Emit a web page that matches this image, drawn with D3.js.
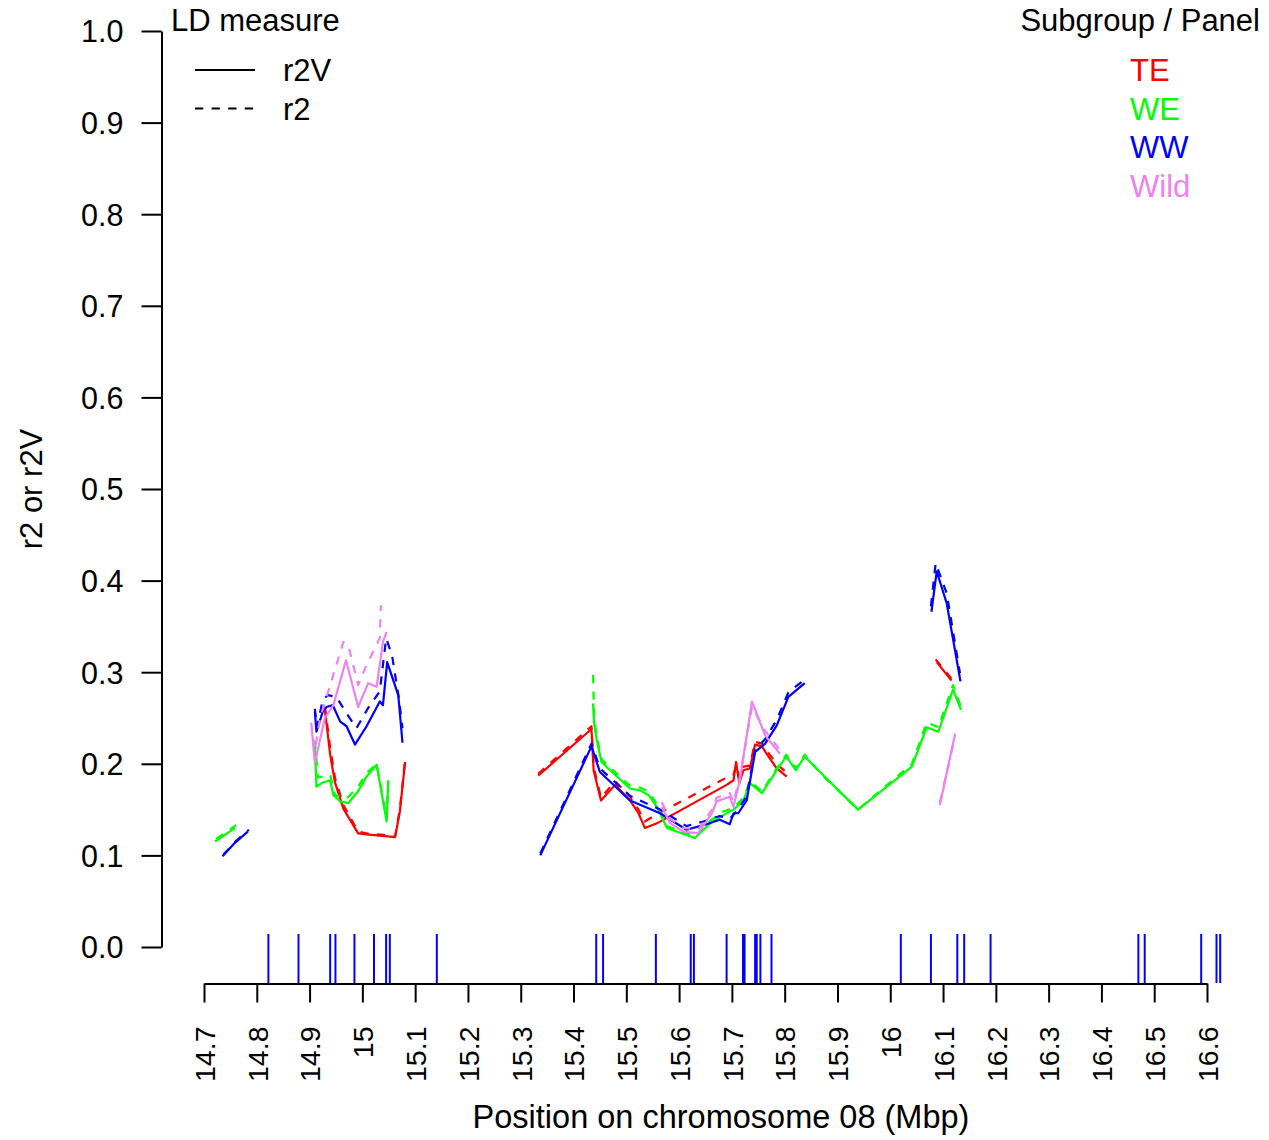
<!DOCTYPE html>
<html>
<head>
<meta charset="utf-8">
<script src="https://cdn.jsdelivr.net/npm/d3@7/dist/d3.min.js"></script>
<style>
  html, body { margin: 0; padding: 0; background: #fff; }
  svg { display: block; font-family: "Liberation Sans", Arial, sans-serif; }
</style>
</head>
<body>
<svg id="chart" width="1269" height="1140"></svg>
<script>
// ---------------- DATA ----------------
const subgroups = ["TE", "WE", "WW", "Wild"];
const measures = ["r2V", "r2"];

const xTicks = [14.7,14.8,14.9,15.0,15.1,15.2,15.3,15.4,15.5,15.6,15.7,15.8,15.9,16.0,16.1,16.2,16.3,16.4,16.5,16.6];
const xTickLabels = ["14.7","14.8","14.9","15","15.1","15.2","15.3","15.4","15.5","15.6","15.7","15.8","15.9","16","16.1","16.2","16.3","16.4","16.5","16.6"];
const yTicks = [0,0.1,0.2,0.3,0.4,0.5,0.6,0.7,0.8,0.9,1.0];
const yTickLabels = ["0.0","0.1","0.2","0.3","0.4","0.5","0.6","0.7","0.8","0.9","1.0"];

// SNP positions (rug), Mbp
const snpPositions = [14.822,14.879,14.939,14.949,14.985,15.022,15.045,15.052,15.141,
  15.443,15.456,15.556,15.622,15.628,15.690,15.721,15.724,15.744,15.747,15.754,15.775,
  16.020,16.077,16.127,16.140,16.190,16.470,16.482,16.589,16.618,16.625];

// [position Mbp, LD value]; null = gap
const TE_r2V = [
  [14.929,0.259],[14.939,0.210],[14.948,0.180],[14.964,0.151],[14.992,0.124],[15.008,0.123],[15.062,0.120],[15.071,0.148],[15.081,0.202], null,
  [15.333,0.187],[15.434,0.238],[15.438,0.193],[15.452,0.160],[15.479,0.177],[15.507,0.160],[15.523,0.146],[15.535,0.130],[15.558,0.135],
  [15.690,0.177],[15.703,0.182],[15.708,0.202],[15.714,0.179],[15.722,0.193],[15.734,0.195],[15.744,0.221],[15.757,0.219],[15.769,0.208],[15.785,0.195],[15.804,0.186], null,
  [16.088,0.311],[16.116,0.291]
];
const TE_r2 = [
  [14.929,0.262],[14.939,0.218],[14.948,0.185],[14.964,0.155],[14.992,0.126],[15.008,0.124],[15.062,0.121],[15.071,0.150],[15.081,0.205], null,
  [15.333,0.189],[15.434,0.241],[15.438,0.197],[15.452,0.163],[15.479,0.181],[15.507,0.164],[15.523,0.150],[15.535,0.137],[15.558,0.145],
  [15.690,0.185],[15.703,0.188],[15.708,0.198],[15.714,0.185],[15.722,0.197],[15.734,0.198],[15.744,0.224],[15.757,0.222],[15.769,0.212],[15.785,0.200],[15.804,0.190], null,
  [16.086,0.314],[16.116,0.293]
];

const WE_r2V = [
  [14.721,0.115],[14.759,0.130], null,
  [14.910,0.219],[14.913,0.175],[14.923,0.179],[14.939,0.182],[14.945,0.166],[14.958,0.159],[14.973,0.157],[14.992,0.170],[15.008,0.186],[15.027,0.199],[15.046,0.137],[15.049,0.180], null,
  [15.437,0.266],[15.439,0.244],[15.444,0.226],[15.453,0.202],[15.475,0.190],[15.507,0.173],[15.526,0.171],[15.542,0.166],[15.558,0.153],[15.577,0.130],
  [15.630,0.119],[15.659,0.135],[15.684,0.144],[15.703,0.150],[15.722,0.160],[15.734,0.179],[15.757,0.168],[15.785,0.193],[15.803,0.208],[15.821,0.193],
  [15.838,0.208],[15.867,0.191],[15.939,0.150],[16.041,0.197],[16.069,0.240],[16.091,0.235],[16.119,0.281],[16.134,0.259]
];
const WE_r2 = [
  [14.723,0.118],[14.761,0.133], null,
  [14.910,0.225],[14.916,0.185],[14.939,0.188],[14.948,0.166],[14.970,0.162],[14.992,0.175],[15.008,0.190],[15.027,0.200],[15.046,0.140],[15.049,0.182], null,
  [15.437,0.297],[15.439,0.250],[15.444,0.230],[15.453,0.205],[15.475,0.193],[15.507,0.176],[15.526,0.174],[15.542,0.170],[15.558,0.156],[15.577,0.132],
  [15.630,0.121],[15.659,0.138],[15.684,0.148],[15.703,0.152],[15.722,0.163],[15.734,0.181],[15.757,0.170],[15.785,0.195],[15.803,0.210],[15.821,0.195],
  [15.838,0.210],[15.867,0.190],[15.939,0.150],[16.041,0.200],[16.069,0.245],[16.091,0.240],[16.119,0.286],[16.134,0.262]
];

const WW_r2V = [
  [14.735,0.099],[14.759,0.114],[14.783,0.126], null,
  [14.910,0.257],[14.913,0.235],[14.925,0.257],[14.932,0.262],[14.944,0.264],[14.958,0.246],[14.970,0.241],[14.986,0.221],[15.008,0.241],[15.033,0.268],[15.039,0.264],[15.047,0.311],[15.068,0.275],[15.076,0.223], null,
  [15.337,0.100],[15.434,0.219],[15.450,0.191],[15.507,0.160],[15.564,0.146],[15.614,0.128],[15.646,0.133],[15.677,0.139],[15.696,0.134],[15.703,0.146],[15.712,0.146],
  [15.728,0.160],[15.744,0.213],[15.763,0.222],[15.785,0.242],[15.807,0.273],[15.838,0.288], null,
  [16.078,0.366],[16.088,0.410],[16.107,0.375],[16.133,0.290]
];
const WW_r2 = [
  [14.737,0.101],[14.761,0.116],[14.785,0.128], null,
  [14.910,0.260],[14.914,0.240],[14.925,0.270],[14.935,0.275],[14.951,0.273],[14.970,0.255],[14.989,0.239],[15.011,0.261],[15.033,0.279],[15.045,0.337],[15.056,0.319],[15.069,0.272],[15.076,0.239], null,
  [15.337,0.102],[15.434,0.222],[15.450,0.195],[15.507,0.165],[15.564,0.150],[15.614,0.132],[15.646,0.137],[15.677,0.143],[15.696,0.140],[15.712,0.150],
  [15.728,0.165],[15.744,0.215],[15.763,0.227],[15.785,0.248],[15.807,0.278],[15.838,0.292], null,
  [16.077,0.372],[16.086,0.419],[16.107,0.386],[16.132,0.299]
];

const Wild_r2V = [
  [14.904,0.239],[14.910,0.201],[14.929,0.250],[14.945,0.264],[14.969,0.313],[14.992,0.262],[15.011,0.288],[15.027,0.284],[15.033,0.308],[15.039,0.333],[15.046,0.344], null,
  [15.567,0.153],[15.583,0.135],[15.608,0.126],[15.636,0.124],[15.662,0.146],[15.671,0.159],[15.696,0.164],[15.703,0.153],[15.715,0.182],[15.738,0.268],[15.763,0.231],[15.791,0.211], null,
  [16.094,0.155],[16.123,0.233]
];
const Wild_r2 = [
  [14.903,0.245],[14.910,0.215],[14.920,0.250],[14.964,0.333],[14.973,0.330],[14.992,0.286],[15.008,0.308],[15.033,0.337],[15.035,0.373], null,
  [15.567,0.158],[15.583,0.140],[15.608,0.130],[15.636,0.128],[15.662,0.150],[15.671,0.163],[15.696,0.168],[15.703,0.158],[15.715,0.185],[15.738,0.262],[15.763,0.236],[15.791,0.215], null,
  [16.094,0.158],[16.122,0.228]
];

// ---------------- STYLE ----------------
const colorMap = { TE: "#ff0000", WE: "#00ff00", WW: "#0000ff", Wild: "#ee82ee" };
const dashMap = { r2V: null, r2: "8.3,8.3" };
const seriesData = {
  TE: { r2V: TE_r2V, r2: TE_r2 },
  WE: { r2V: WE_r2V, r2: WE_r2 },
  WW: { r2V: WW_r2V, r2: WW_r2 },
  Wild: { r2V: Wild_r2V, r2: Wild_r2 }
};
const FONT_YTICK = 30.5;
const FONT_XTICK = 28.5;
const FONT_LEG = 31;
const FONT_XTITLE = 32.5;
const FONT_YTITLE = 31;
const FF = "'Liberation Sans', Arial, sans-serif";

const svg = d3.select("#chart");
const x = d3.scaleLinear().domain([14.7, 16.6]).range([204, 1207]);
const y = d3.scaleLinear().domain([0, 1]).range([947, 31]);

// lines
const line = d3.line()
  .defined(d => d !== null)
  .x(d => x(d[0]))
  .y(d => y(d[1]));

const gLines = svg.append("g").attr("fill", "none").attr("stroke-width", 2.2)
  .attr("stroke-linejoin", "round");
subgroups.forEach(sg => {
  measures.forEach(m => {
    gLines.append("path")
      .datum(seriesData[sg][m])
      .attr("d", line)
      .attr("stroke", colorMap[sg])
      .attr("stroke-dasharray", dashMap[m]);
  });
});

// rug
svg.append("g").selectAll("line").data(snpPositions).join("line")
  .attr("x1", d => x(d)).attr("x2", d => x(d))
  .attr("y1", 934).attr("y2", 983)
  .attr("stroke", "#0000ff").attr("stroke-width", 2);

// y axis
const yAxis = d3.axisLeft(y).tickValues(yTicks)
  .tickFormat((d, i) => yTickLabels[i]).tickSize(20).tickSizeOuter(0).tickPadding(18);
const gy = svg.append("g").attr("transform", "translate(161.5,0)").call(yAxis);
gy.select(".domain").attr("stroke-width", 2);
gy.selectAll(".tick line").attr("stroke-width", 2);
gy.selectAll(".tick text").attr("font-size", FONT_YTICK).attr("fill", "#000")
  .attr("font-family", FF).attr("dy", "0.36em");

// x axis
const xAxis = d3.axisBottom(x).tickValues(xTicks)
  .tickFormat((d, i) => xTickLabels[i]).tickSize(19).tickSizeOuter(0);
const gx = svg.append("g").attr("transform", "translate(0,983.5)").call(xAxis);
gx.select(".domain").attr("stroke-width", 2);
gx.selectAll(".tick line").attr("stroke-width", 2);
gx.selectAll(".tick text").attr("font-size", FONT_XTICK).attr("fill", "#000")
  .attr("font-family", FF)
  .attr("transform", "rotate(-90)")
  .attr("x", -43).attr("y", 0).attr("dy", "0.36em")
  .attr("text-anchor", "end");

// axis titles
svg.append("text").attr("x", 721).attr("y", 1128).attr("text-anchor", "middle")
  .attr("font-size", FONT_XTITLE).text("Position on chromosome 08 (Mbp)");
svg.append("text").attr("transform", "translate(42,489) rotate(-90)")
  .attr("text-anchor", "middle").attr("font-size", FONT_YTITLE).text("r2 or r2V");

// legend: LD measure
svg.append("text").attr("x", 171).attr("y", 31).attr("font-size", FONT_LEG).text("LD measure");
measures.forEach((m, i) => {
  const yy = 70 + i * 38.5;
  svg.append("line").attr("x1", 195).attr("x2", 255).attr("y1", yy).attr("y2", yy)
    .attr("stroke", "#000").attr("stroke-width", 2).attr("stroke-dasharray", dashMap[m]);
  svg.append("text").attr("x", 283).attr("y", yy + 11).attr("font-size", FONT_LEG).text(m);
});

// legend: subgroup
svg.append("text").attr("x", 1260).attr("y", 31).attr("text-anchor", "end")
  .attr("font-size", FONT_LEG).text("Subgroup / Panel");
subgroups.forEach((sg, i) => {
  svg.append("text").attr("x", 1130).attr("y", 81 + i * 38.5)
    .attr("font-size", FONT_LEG).attr("fill", colorMap[sg]).text(sg);
});
</script>
</body>
</html>
